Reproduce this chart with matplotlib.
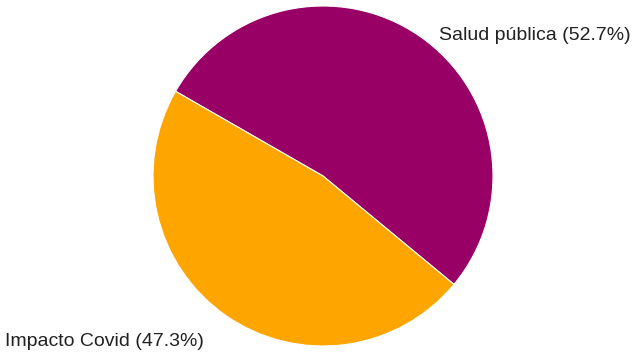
import matplotlib
matplotlib.use("Agg")
import matplotlib.pyplot as plt

# Share of items by topic
categories = ["Salud pública", "Impacto Covid"]
values = [52.7, 47.3]
colors = ["#990066", "#FFA500"]

plt.rcParams["font.family"] = ["Liberation Sans", "DejaVu Sans"]

W, H = 634, 352
fig = plt.figure(figsize=(W / 100, H / 100), dpi=100)

# Pie centred at (323, 176) px with radius 170 px
cx, cy, r = 323, 176, 170
ax = fig.add_axes([(cx - r) / W, (H - cy - r) / H, 2 * r / W, 2 * r / H])

wedges, _ = ax.pie(
    values,
    colors=colors,
    startangle=-39.6,
    counterclock=True,
    wedgeprops=dict(edgecolor="white", linewidth=0.8),
)
ax.set_xlim(-1, 1)
ax.set_ylim(-1, 1)
ax.set_aspect("equal")
ax.axis("off")

labels = [f"{c} ({v:.1f}%)" for c, v in zip(categories, values)]
ax.text(0.682, 0.80, labels[0], ha="left", va="baseline", fontsize=14,
        color="#222222", clip_on=False)
ax.text(-0.70, -1.0, labels[1], ha="right", va="baseline", fontsize=14,
        color="#222222", clip_on=False)

fig.savefig("out.png", dpi=100, facecolor="white")
